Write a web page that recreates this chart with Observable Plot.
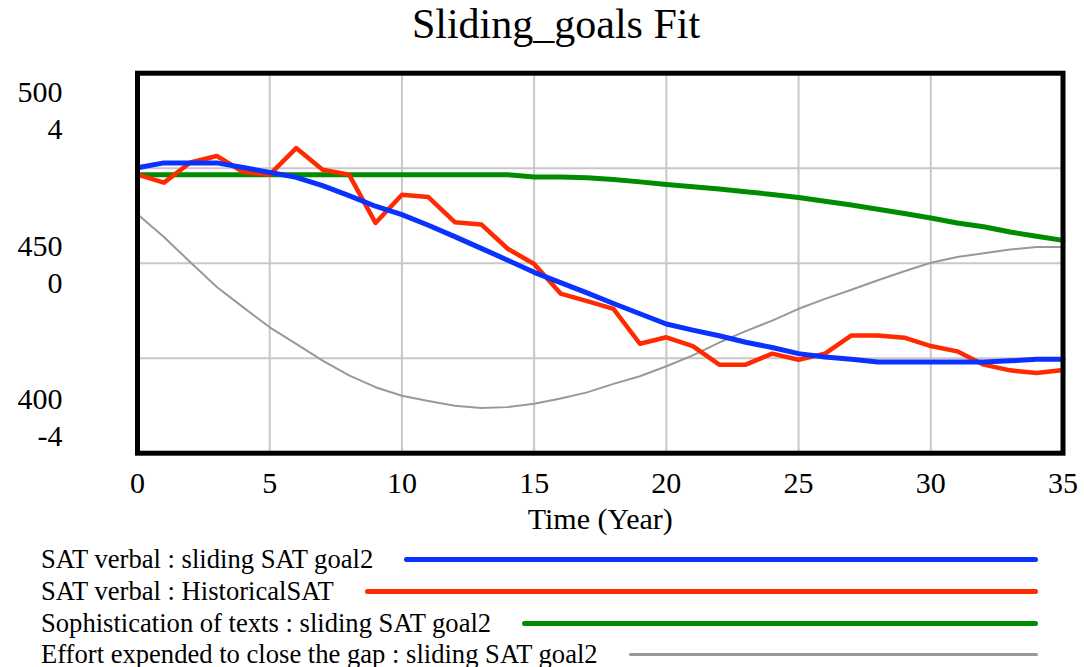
<!DOCTYPE html>
<html><head><meta charset="utf-8">
<script src="https://cdn.jsdelivr.net/npm/d3@7"></script>
<script src="https://cdn.jsdelivr.net/npm/@observablehq/plot@0.6"></script>
<style>
body{margin:0;background:#fff;}
#wrap{position:relative;width:1084px;height:667px;overflow:hidden;font-family:"Liberation Serif","Times New Roman",serif;color:#000;}
#chart{position:absolute;left:0;top:0;}
#title{position:absolute;left:0;width:1112px;top:0;text-align:center;font-size:42px;line-height:42px;padding-top:3px;}
.row{position:absolute;left:41px;width:997px;height:31.5px;display:flex;align-items:center;font-size:26.6px;line-height:31.5px;white-space:nowrap;}
.row .ln{flex:1;margin-left:31px;border-radius:3px;}
</style></head>
<body>
<div id="wrap">
  <div id="chart"></div>
  <div id="title">Sliding_goals Fit</div>
  <div id="legend"></div>
</div>
<script>
const years = [0,1,2,3,4,5,6,7,8,9,10,11,12,13,14,15,16,17,18,19,20,21,22,23,24,25,26,27,28,29,30,31,32,33,34,35];
const slidingSAT = [475.1,476.4,476.4,476.4,475.2,473.9,472.6,470.4,467.8,465.0,462.8,460.0,457.0,453.9,450.8,447.6,444.9,442.2,439.4,436.7,434.0,432.4,430.9,429.2,427.8,426.2,425.3,424.7,424.0,424.0,424.0,424.0,424.0,424.3,424.7,424.7];
const historicalSAT = [473.3,471.2,476.5,478.2,474.0,473.3,480.3,474.6,473.3,460.6,468.0,467.4,460.8,460.2,453.8,449.8,442.0,440.0,438.0,428.8,430.5,428.2,423.3,423.3,426.2,424.6,426.2,431.0,431.0,430.4,428.2,426.8,423.3,421.8,421.1,421.9];
const sophistication = [473.3,473.3,473.3,473.3,473.3,473.3,473.3,473.3,473.3,473.3,473.3,473.3,473.3,473.3,473.3,472.7,472.7,472.5,472.0,471.4,470.7,470.1,469.5,468.8,468.1,467.3,466.3,465.3,464.2,463.1,461.9,460.6,459.6,458.2,457.1,456.0];
const effort = [1.03,0.55,0.02,-0.50,-0.93,-1.35,-1.70,-2.05,-2.36,-2.61,-2.79,-2.90,-3.00,-3.05,-3.03,-2.96,-2.85,-2.72,-2.54,-2.38,-2.17,-1.94,-1.67,-1.43,-1.21,-0.96,-0.75,-0.56,-0.36,-0.17,0.01,0.13,0.21,0.29,0.34,0.34];

const xTicks = [0,5,10,15,20,25,30,35];
const xGrid = [5,10,15,20,25,30];
const yGrid = [425,450,475];
const satTicks = [500,450,400];
const effortTicks = [4,0,-4];
const seriesNames = ["SAT verbal : sliding SAT goal2","SAT verbal : HistoricalSAT","Sophistication of texts : sliding SAT goal2","Effort expended to close the gap : sliding SAT goal2"];
const seriesColors = ["#0a32ff","#ff2a00","#008c00","#999999"];
const seriesWidths = [5,4.5,5,2];

// effort (-4..4) shares the frame with SAT (400..500)
const toSat = e => 450 + e * 12.5;

const rows = years.map((t, i) => ({t, sat: slidingSAT[i], hist: historicalSAT[i], soph: sophistication[i], eff: effort[i]}));

const satOffsets = [19.5, -16.5, -54];
const effOffsets = [56, 20, -17];
const labelMarks = satTicks.flatMap((v, i) => [
  Plot.text([v], {y: d => d, text: d => String(d), frameAnchor: "left", dx: -75, dy: satOffsets[i], textAnchor: "end", lineAnchor: "middle", fontSize: 30}),
  Plot.text([effortTicks[i]], {y: d => toSat(d), text: d => String(d), frameAnchor: "left", dx: -75, dy: effOffsets[i], textAnchor: "end", lineAnchor: "middle", fontSize: 30})
]);

const plot = Plot.plot({
  width: 1084, height: 540,
  marginLeft: 137, marginRight: 21.5, marginTop: 72.7, marginBottom: 87.3,
  x: {domain: [0, 35], axis: null},
  y: {domain: [400, 500], axis: null},
  style: {fontFamily: '"Liberation Serif","Times New Roman",serif', background: "transparent", color: "#000"},
  marks: [
    Plot.ruleX(xGrid, {x: d => d, stroke: "#c8c8c8", strokeWidth: 2}),
    Plot.ruleY(yGrid, {y: d => d, stroke: "#c8c8c8", strokeWidth: 2}),
    Plot.line(rows, {x: "t", y: d => toSat(d.eff), stroke: seriesColors[3], strokeWidth: seriesWidths[3]}),
    Plot.line(rows, {x: "t", y: "soph", stroke: seriesColors[2], strokeWidth: seriesWidths[2]}),
    Plot.line(rows, {x: "t", y: "hist", stroke: seriesColors[1], strokeWidth: seriesWidths[1]}),
    Plot.line(rows, {x: "t", y: "sat", stroke: seriesColors[0], strokeWidth: seriesWidths[0]}),
    Plot.frame({stroke: "#000", strokeWidth: 5}),
    ...labelMarks,
    Plot.text(xTicks, {x: d => d, text: d => String(d), frameAnchor: "bottom", lineAnchor: "middle", dy: 30, fontSize: 30}),
    Plot.text(["Time (Year)"], {text: d => d, frameAnchor: "bottom", lineAnchor: "middle", dy: 66, fontSize: 30})
  ]
});
document.getElementById("chart").appendChild(plot);

const tops = [544, 576, 607.5, 638.5];
const legend = document.getElementById("legend");
seriesNames.forEach((name, i) => {
  const row = document.createElement("div");
  row.className = "row";
  row.style.top = tops[i] + "px";
  const sp = document.createElement("span");
  sp.textContent = name;
  const ln = document.createElement("div");
  ln.className = "ln";
  ln.style.height = (i === 3 ? 3.5 : 5) + "px";
  ln.style.background = seriesColors[i];
  row.appendChild(sp);
  row.appendChild(ln);
  legend.appendChild(row);
});
</script>
</body></html>
